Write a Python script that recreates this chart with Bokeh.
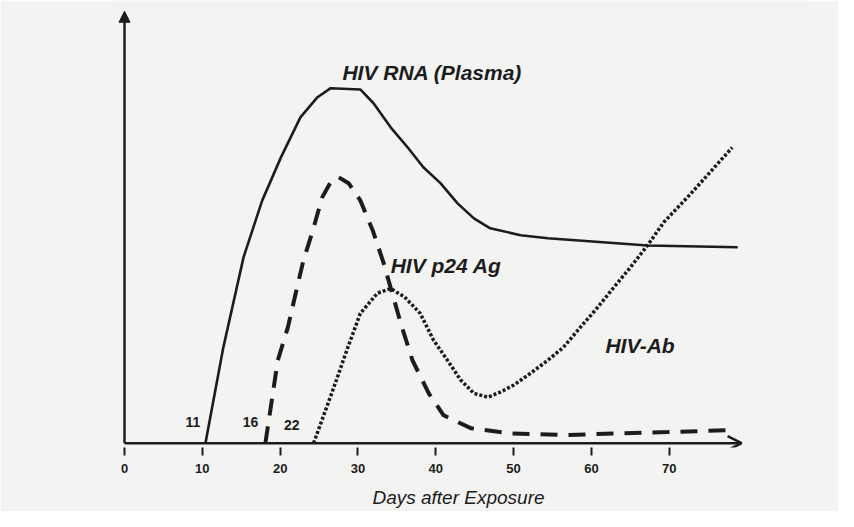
from bokeh.plotting import figure
from bokeh.models import Arrow, NormalHead, OpenHead, FixedTicker, ColumnDataSource
from bokeh.core.properties import value
from bokeh.embed import file_html
from bokeh.resources import INLINE

# ---- data (days after exposure, relative level 0-100) ----
rna_days = [10.4, 12.7, 15.3, 17.7, 20.1, 22.6, 24.8, 26.5, 30.3, 32.0, 34.2,
            36.4, 38.4, 40.6, 42.8, 44.9, 47.0, 50.9, 54.4, 67.2, 78.8]
rna_level = [0, 22.3, 43.3, 56.5, 66.5, 75.8, 80.5, 82.6, 82.3, 79.1, 73.5,
             68.8, 64.2, 60.5, 55.8, 52.3, 50.0, 48.4, 47.7, 46.0, 45.6]

p24_days = [18.1, 19.7, 21.0, 22.0, 23.0, 24.2, 25.4, 26.5, 27.5, 28.8, 30.3,
            31.9, 33.3, 35.5, 37.0, 39.1, 41.0, 44.5, 49.6, 56.9, 63.4, 69.8, 77.5]
p24_level = [0, 19.3, 27.0, 34.9, 42.6, 49.5, 57.2, 60.8, 61.9, 60.5, 56.5,
             49.5, 41.9, 27.9, 19.3, 11.6, 6.5, 3.5, 2.3, 1.9, 2.3, 2.6, 3.0]

ab_days = [24.3, 26.9, 28.7, 30.3, 32.5, 34.2, 36.0, 38.0, 39.7, 41.5, 43.2,
           44.9, 46.7, 48.3, 50.0, 52.2, 54.4, 56.4, 58.6, 60.8, 62.9, 65.0,
           67.2, 69.3, 72.8, 78.1]
ab_level = [0, 13.0, 22.3, 30.2, 34.9, 36.0, 34.0, 30.2, 24.0, 19.3, 14.7,
            11.6, 10.7, 11.9, 13.5, 16.3, 19.3, 22.3, 27.0, 31.6, 36.3, 40.9,
            46.0, 51.4, 58.1, 68.8]

day_ticks = [0, 10, 20, 30, 40, 50, 60, 70]

series_names = ["HIV RNA (Plasma)", "HIV p24 Ag", "HIV-Ab"]
name_x = [28.0, 34.2, 61.8]
name_y = [86.3, 41.4, 22.8]

onset_labels = ["11", "16", "22"]
onset_x = [8.8, 16.2, 21.5]
onset_y = [4.9, 4.9, 4.3]

AXIS_X_END = 79.3
AXIS_Y_END = 100.5

INK = "#1c1c1c"
PAPER = "#f3f3f1"
FONT = "Liberation Sans"

p = figure(width=838, height=511, x_range=(-2.06, 87.9), y_range=(-1, 103.0),
           output_backend="svg", toolbar_location=None,
           min_border_left=108, min_border_right=30, min_border_top=0,
           min_border_bottom=64)
p.yaxis.visible = False
p.xgrid.visible = False
p.ygrid.visible = False
p.outline_line_color = None
p.background_fill_color = PAPER
p.border_fill_color = PAPER

ax = p.xaxis[0]
ax.ticker = FixedTicker(ticks=day_ticks)
ax.axis_line_color = None
ax.major_tick_line_color = INK
ax.major_tick_line_width = 2
ax.major_tick_in = 0
ax.major_tick_out = 8
ax.minor_tick_line_color = None
ax.major_label_standoff = 8
ax.major_label_text_font = FONT
ax.major_label_text_font_style = "bold"
ax.major_label_text_font_size = "13px"
ax.major_label_text_color = INK
ax.axis_label = "Days after Exposure"
ax.axis_label_text_font = FONT
ax.axis_label_text_font_style = "italic"
ax.axis_label_text_font_size = "19px"
ax.axis_label_text_color = INK
ax.axis_label_standoff = 11

# axes drawn as arrows
p.add_layout(Arrow(end=OpenHead(size=14, line_width=2.5, line_color=INK),
                   x_start=0, y_start=0, x_end=AXIS_X_END, y_end=0,
                   line_width=2.5, line_color=INK))
p.add_layout(Arrow(end=NormalHead(size=11, fill_color=INK, line_color=INK),
                   x_start=0, y_start=0, x_end=0, y_end=AXIS_Y_END,
                   line_width=2.5, line_color=INK))

# curves
p.line(rna_days, rna_level, line_color=INK, line_width=2.6, line_join="round")
p.line(p24_days, p24_level, line_color=INK, line_width=4, line_dash="17 11")
p.line(ab_days, ab_level, line_color=INK, line_width=3.5, line_dash="3 2")

# labels
names = ColumnDataSource(dict(x=name_x, y=name_y, t=series_names))
p.text(x="x", y="y", text="t", source=names, text_font=value(FONT),
       text_font_style="bold italic", text_font_size="21px",
       text_baseline="middle", text_align="left", text_color=INK)

onsets = ColumnDataSource(dict(x=onset_x, y=onset_y, t=onset_labels))
p.text(x="x", y="y", text="t", source=onsets, text_font=value(FONT),
       text_font_style="bold", text_font_size="14px",
       text_baseline="middle", text_align="center", text_color=INK)

open("out.html", "w").write(file_html(p, INLINE))
